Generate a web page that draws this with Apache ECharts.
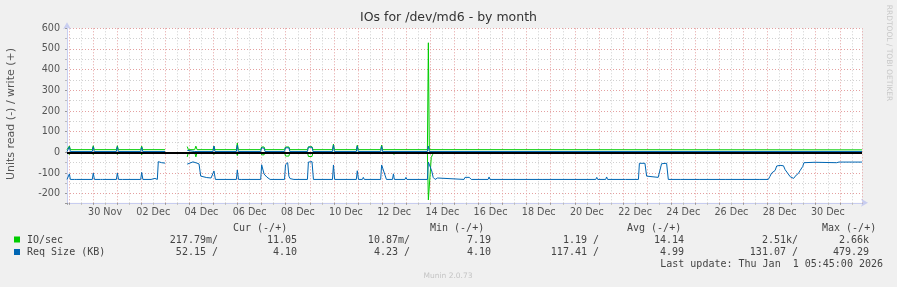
<!DOCTYPE html>
<html><head><meta charset="utf-8">
<script src="https://cdn.jsdelivr.net/npm/echarts@6/dist/echarts.min.js"></script>
<style>html,body{margin:0;padding:0;background:#f0f0f0;}#c{width:897px;height:287px;}</style>
</head><body><div id="c"></div><script>
// x values: days since 29 Nov 2025 00:00
const xMin = -0.08, xMax = 32.92;
const monthNames = ['Jan','Feb','Mar','Apr','May','Jun','Jul','Aug','Sep','Oct','Nov','Dec'];
const yTicks = [-200,-100,0,100,200,300,400,500,600];

// IO/sec write (+)
const ioWrite = [[-0.08,13],[-0.02,13],[0.02,31],[0.06,13],[0.97,13],[1.01,32],[1.05,13],[1.97,13],[2.01,32],[2.05,13],[2.98,13],[3.02,30],[3.06,13],[3.99,13],[4.4,null],
[4.91,28],[4.96,13],[5.22,13],[5.27,30],[5.32,13],[5.98,13],[6.02,30],[6.06,13],[6.95,13],[6.99,45],[7.03,13],[7.96,13],[8.0,26],[8.1,26],[8.14,13],
[8.95,13],[8.99,26],[9.13,26],[9.17,13],[9.90,13],[9.94,27],[10.09,27],[10.13,13],[10.94,13],[10.98,40],[11.02,13],[11.93,13],[11.97,35],[12.01,13],
[12.94,13],[12.98,35],[13.02,13],[14.88,13],[14.92,530],[14.96,13],[16.40,13],[16.44,18],[16.48,13],[32.92,12]];
// IO/sec read (-), magnitudes
const ioRead = [[-0.08,0],[-0.02,0],[0.02,10],[0.06,0],[0.97,0],[1.01,10],[1.05,0],[1.97,0],[2.01,10],[2.05,0],[2.98,0],[3.02,12],[3.06,0],[3.99,0],[4.4,null],
[4.91,22],[4.96,0],[5.22,0],[5.27,22],[5.32,0],[5.98,0],[6.02,10],[6.06,0],[6.95,0],[6.99,15],[7.03,0],[7.96,0],[8.0,12],[8.1,12],[8.14,0],[8.95,0],[8.99,18],[9.13,18],[9.17,0],
[9.90,0],[9.94,20],[10.09,20],[10.13,0],[10.94,0],[10.98,5],[11.02,0],[11.93,0],[11.97,5],[12.01,0],[12.94,0],[12.98,5],[13.02,0],[13.45,0],[13.49,10],[13.53,0],
[14.88,0],[14.92,230],[15.04,25],[15.1,10],[15.16,0],[16.40,0],[16.44,5],[16.48,0],[32.92,0]];
// Req Size (KB) write (+)
const reqWrite = [[-0.08,4],[-0.02,4],[0.02,27],[0.06,4],[0.97,4],[1.01,27],[1.05,4],[1.97,4],[2.01,27],[2.05,4],[2.98,4],[3.02,25],[3.06,4],[3.99,4],[4.4,null],
[4.91,10],[4.96,4],[5.22,4],[5.27,10],[5.32,4],[5.98,4],[6.02,30],[6.06,4],[6.95,4],[6.99,35],[7.03,4],[7.96,4],[8.0,22],[8.1,20],[8.14,4],[8.95,4],[8.99,22],[9.13,22],[9.17,4],
[9.90,4],[9.94,25],[10.09,25],[10.13,4],[10.94,4],[10.98,35],[11.02,4],[11.93,4],[11.97,30],[12.01,4],[12.94,4],[12.98,30],[13.02,4],[14.88,4],[14.92,30],[14.96,4],
[16.40,4],[16.44,10],[16.48,4],[32.92,4]];
// Req Size (KB) read (-), magnitudes
const reqRead = [[-0.08,131],[0.0,131],[0.02,104],[0.06,131],[0.24,131],[0.28,122],[0.33,131],
[0.97,131],[1.01,100],[1.06,131],[1.31,131],[1.35,122],[1.40,131],
[1.97,131],[2.01,100],[2.06,131],[2.22,131],[2.26,122],[2.30,131],
[2.98,131],[3.02,97],[3.07,131],[3.41,131],[3.45,126],[3.57,126],[3.61,131],
[3.67,131],[3.71,45],[3.78,42],[3.85,50],[3.99,52],[4.4,null],
[4.91,57],[5.15,46],[5.31,52],[5.40,56],[5.47,115],[5.72,122],[5.90,124],[5.98,131],[6.02,90],[6.08,131],
[6.95,131],[6.99,85],[7.04,131],[7.15,131],[7.19,125],[7.23,131],
[7.96,131],[8.00,60],[8.10,105],[8.22,120],[8.35,131],
[8.95,131],[8.99,60],[9.08,50],[9.13,115],[9.18,127],[9.26,131],[9.34,131],[9.38,125],[9.42,131],
[9.90,131],[9.94,47],[10.09,45],[10.15,131],
[10.94,131],[10.98,61],[11.03,131],
[11.93,131],[11.97,89],[12.02,131],[12.18,131],[12.22,121],[12.26,131],
[12.94,131],[12.98,61],[13.12,110],[13.18,131],[13.43,131],[13.47,104],[13.51,131],[13.95,131],[13.99,121],[14.03,131],
[14.88,131],[14.92,47],[15.06,90],[15.12,121],[15.20,131],[15.26,131],[15.30,124],[15.36,131],
[16.40,131],[16.44,121],[16.50,125],[16.62,121],[16.70,131],[17.40,131],[17.44,119],[17.48,131],
[18.89,131],[18.93,127],[18.97,131],[19.64,131],[19.68,127],[19.72,131],[21.87,131],[21.91,121],[21.95,131],
[22.28,131],[22.32,119],[22.36,131],[23.11,131],[23.15,127],[23.19,131],
[23.64,131],[23.68,53],[23.74,50],[23.91,53],[23.98,115],[24.05,121],[24.46,121],[24.53,127],[24.60,55],[24.67,50],[24.81,53],[24.88,131],
[25.40,131],[25.44,126],[25.48,131],[26.16,131],[26.20,126],[26.24,131],[27.27,131],[27.31,127],[27.35,131],[28.23,131],[28.27,127],[28.31,131],
[28.65,131],[28.69,128],[28.73,131],[29.03,131],[29.10,116],[29.17,100],[29.31,88],[29.38,66],[29.52,63],[29.66,65],[29.73,84],[29.83,100],[29.94,118],
[30.08,126],[30.19,110],[30.28,102],[30.35,88],[30.46,68],[30.51,50],[30.97,48],[31.04,50],[31.87,50],[31.96,47],[32.03,50],[32.92,47]];

const neg = a => a.map(p => [p[0], p[1] == null ? null : -p[1]]);
const FONT = 'DejaVu Sans', MONO = 'DejaVu Sans Mono';
const GREEN = '#00cc00', BLUE = '#0066b3';
const gridRed = '#e4a0a0', gridGray = '#d0d0d0', axisCol = '#c8cdf0';

function dayLabel(u) {
  if (Math.abs(u - Math.round(u)) > 1e-6) return '';
  const dt = new Date(Date.UTC(2025, 10, 28) + Math.round(u) * 864e5);
  const d = dt.getUTCDate();
  if (d % 2) return '';
  return String(d).padStart(2, '0') + ' ' + monthNames[dt.getUTCMonth()];
}
const lineS = (name, data, color, z) => ({
  name, type: 'line', data, xAxisIndex: 0, yAxisIndex: 0, symbol: 'none', showSymbol: false,
  lineStyle: { color, width: 1 }, itemStyle: { color }, connectNulls: false, z, animation: false
});

const chart = echarts.init(document.getElementById('c'), null, { renderer: 'canvas' });
const legendCols = [218, 297, 410, 491, 599, 684, 798, 869];
const row1 = ['217.79m/', '11.05', '10.87m/', '7.19', '1.19 /', '14.14', '2.51k/', '2.66k'];
const row2 = ['52.15 /', '4.10', '4.23 /', '4.10', '117.41 /', '4.99', '131.07 /', '479.29'];
const headers = [['Cur (-/+)', 233], ['Min (-/+)', 430], ['Avg (-/+)', 627], ['Max (-/+)', 822]];
const txt = (x, y, text, opt) => Object.assign({ type: 'text', x, y, silent: true,
  style: Object.assign({ text, fill: '#444', font: '10px ' + MONO, textAlign: 'left', textVerticalAlign: 'middle' }, opt || {}) });
const graphics = [];
headers.forEach(h => graphics.push(txt(h[1], 228, h[0])));
graphics.push({ type: 'rect', shape: { x: 14, y: 236.5, width: 6, height: 6 }, style: { fill: GREEN }, silent: true });
graphics.push({ type: 'rect', shape: { x: 14, y: 249, width: 6, height: 6 }, style: { fill: BLUE }, silent: true });
graphics.push(txt(27, 240, 'IO/sec'));
graphics.push(txt(27, 252, 'Req Size (KB)'));
row1.forEach((s, i) => graphics.push(txt(legendCols[i], 240, s, { textAlign: 'right' })));
row2.forEach((s, i) => graphics.push(txt(legendCols[i], 252, s, { textAlign: 'right' })));
graphics.push(txt(883, 264.5, 'Last update: Thu Jan  1 05:45:00 2026', { textAlign: 'right' }));
graphics.push(txt(448, 276.5, 'Munin 2.0.73', { textAlign: 'center', fill: '#c4c4c4', font: '7.5px ' + FONT }));
graphics.push(txt(448.5, 18, 'IOs for /dev/md6 - by month', { textAlign: 'center', fill: '#333', font: '12.5px ' + FONT }));
graphics.push(Object.assign(txt(11, 114, 'Units read (-) / write (+)', { textAlign: 'center', fill: '#555', font: '11px ' + FONT }), { rotation: Math.PI / 2 }));
graphics.push(Object.assign(txt(889, 53, 'RRDTOOL / TOBI OETIKER', { textAlign: 'center', fill: '#c8c8c8', font: '7.5px ' + FONT }), { rotation: -Math.PI / 2 }));

chart.setOption({
  backgroundColor: '#f0f0f0',
  animation: false,
  grid: { left: 67, top: 28.3, width: 795, height: 174.5, show: true, backgroundColor: '#ffffff', borderWidth: 0, containLabel: false },
  xAxis: [{
    type: 'value', min: xMin, max: xMax, splitNumber: 33, minInterval: 1, maxInterval: 1, position: 'bottom',
    axisLine: { show: true, onZero: false, lineStyle: { color: axisCol, width: 1 }, symbol: ['none', 'arrow'], symbolSize: [6, 7], symbolOffset: [0, 6] },
    axisTick: { show: true, length: 2, lineStyle: { color: '#999' } },
    minorTick: { show: true, splitNumber: 2, length: 2, lineStyle: { color: '#bbb' } },
    axisLabel: { show: false },
    splitLine: { show: true, lineStyle: { color: gridRed, width: 1, type: [1, 2] } },
    minorSplitLine: { show: true, lineStyle: { color: gridGray, width: 1, type: [1, 2] } }
  }, {
    type: 'value', min: xMin + 0.5, max: xMax + 0.5, splitNumber: 33, minInterval: 1, maxInterval: 1, position: 'bottom', offset: 0,
    axisLine: { show: false }, axisTick: { show: false }, splitLine: { show: false },
    axisLabel: { show: true, interval: 0, formatter: dayLabel, color: '#555', fontSize: 9.6, fontFamily: FONT, margin: 5, showMinLabel: true, showMaxLabel: true }
  }],
  yAxis: [{
    type: 'value', min: -244, max: 600, splitNumber: 8, minInterval: 100, maxInterval: 100,
    axisLine: { show: true, onZero: false, lineStyle: { color: axisCol, width: 1 }, symbol: ['none', 'arrow'], symbolSize: [6, 7], symbolOffset: [0, 6] },
    axisTick: { show: true, length: 2, lineStyle: { color: '#999' } },
    minorTick: { show: true, splitNumber: 2, length: 2, lineStyle: { color: '#bbb' } },
    axisLabel: { formatter: v => (Math.abs(v % 100) < 1e-6 ? String(v) : ''), color: '#555', fontSize: 9.6, fontFamily: FONT, margin: 7 },
    splitLine: { show: true, lineStyle: { color: gridRed, width: 1, type: [1, 2] } },
    minorSplitLine: { show: true, lineStyle: { color: gridGray, width: 1, type: [1, 2] } }
  }],
  series: [
    lineS('IO/sec read', neg(ioRead), GREEN, 2),
    lineS('IO/sec write', ioWrite, GREEN, 3),
    Object.assign(lineS('Req Size read', neg(reqRead), BLUE, 5), {
      markLine: { silent: true, symbol: ['none', 'none'], label: { show: false }, animation: false, z: 4,
        lineStyle: { color: '#000', width: 2, type: 'solid' }, data: [{ yAxis: 0 }] }
    }),
    lineS('Req Size write', reqWrite, BLUE, 6)
  ],
  graphic: graphics
});
</script></body></html>
